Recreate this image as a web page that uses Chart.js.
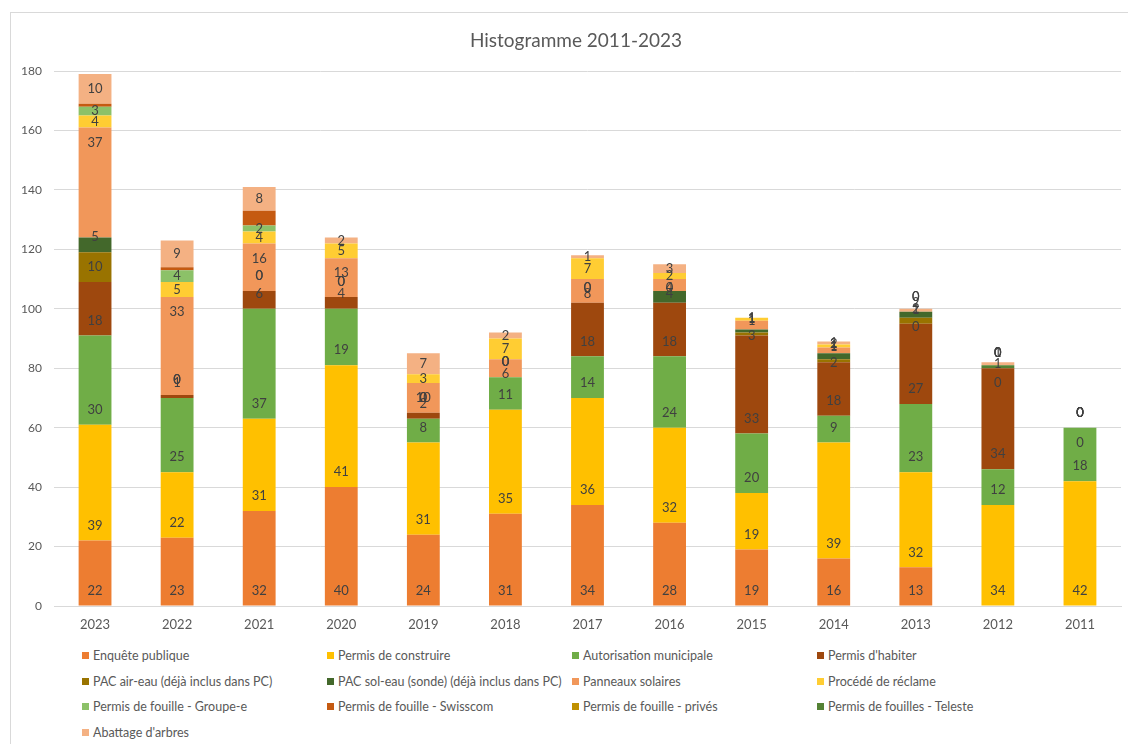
<!DOCTYPE html>
<html lang="fr">
<head>
<meta charset="UTF-8">
<title>Histogramme 2011-2023</title>
<script src="https://cdn.jsdelivr.net/npm/chart.js"></script>
<style>
  body { margin: 0; background: #fff; font-family: Lato, 'Open Sans', sans-serif; }
  .frame {
    position: absolute; left: 10px; top: 12px; width: 1130px; height: 740px;
    border: 1px solid #d9d9d9; box-sizing: border-box;
  }
  #chart { position: absolute; left: 0; top: 0; }
  .titre {
    position: absolute; left: 376px; width: 400px; top: 28px; text-align: center;
    font-size: 19px; color: #595959;
  }
  .legend {
    position: absolute; left: 82px; top: 643px; width: 1000px;
    display: grid; grid-template-columns: repeat(4, 245px); grid-auto-rows: 25.5px;
    font-size: 12.5px; color: #595959;
  }
  .legend span { display: flex; align-items: center; white-space: nowrap; }
  .legend i { display: inline-block; width: 7px; height: 7px; margin-right: 4px; }
</style>
</head>
<body>
<div class="frame"></div>
<canvas id="chart" width="1128" height="640"></canvas>
<div class="titre">Histogramme 2011-2023</div>
<div class="legend" id="legend"></div>

<script>
// années (ordre du graphique)
const annees = ['2023','2022','2021','2020','2019','2018','2017','2016','2015','2014','2013','2012','2011'];

const enquetePublique   = [22, 23, 32, 40, 24, 31, 34, 28, 19, 16, 13, null, null];
const permisConstruire  = [39, 22, 31, 41, 31, 35, 36, 32, 19, 39, 32, 34, 42];
const autorisationMun   = [30, 25, 37, 19, 8, 11, 14, 24, 20, 9, 23, 12, 18];
const permisHabiter     = [18, 1, 6, 4, 2, 0, 18, 18, 33, 18, 27, 34, 0];
const pacAirEau         = [10, 0, 0, 0, 0, 0, 0, 0, 1, 1, 2, 0, 0];
const pacSolEau         = [5, 0, 0, 0, 0, 0, 0, 4, 1, 2, 2, 0, 0];
const panneauxSolaires  = [37, 33, 16, 13, 10, 6, 8, 4, 3, 2, 0, 0, 0];
const procedeReclame    = [4, 5, 4, 5, 3, 7, 7, 2, 1, 1, null, null, null];
const fouilleGroupeE    = [3, 4, 2, null, null, null, null, null, null, null, null, null, null];
const fouilleSwisscom   = [1, 1, 5, null, null, null, null, null, null, null, null, null, null];
const fouillePrives     = [null, null, null, null, null, null, null, null, null, null, 0, 0, 0];
const fouillesTeleste   = [null, null, null, null, null, null, null, null, null, null, 0, 1, 0];
const abattageArbres    = [10, 9, 8, 2, 7, 2, 1, 3, null, 1, 1, 1, null];

const yTicks = [0, 20, 40, 60, 80, 100, 120, 140, 160, 180];

// nom, données, couleur, position de l'étiquette (base / fin / centre / aucune)
const series = [
  ["Enquête publique", enquetePublique, '#ED7D31', 'base'],
  ["Permis de construire", permisConstruire, '#FFC000', 'base'],
  ["Autorisation municipale", autorisationMun, '#70AD47', 'base'],
  ["Permis d'habiter", permisHabiter, '#9E480E', 'base'],
  ["PAC air-eau (déjà inclus dans PC)", pacAirEau, '#997300', 'base'],
  ["PAC sol-eau (sonde) (déjà inclus dans PC)", pacSolEau, '#43682B', 'base'],
  ["Panneaux solaires", panneauxSolaires, '#F1975A', 'end'],
  ["Procédé de réclame", procedeReclame, '#FFCD33', 'center'],
  ["Permis de fouille - Groupe-e", fouilleGroupeE, '#8CC168', 'center'],
  ["Permis de fouille - Swisscom", fouilleSwisscom, '#C55A11', 'none'],
  ["Permis de fouille - privés", fouillePrives, '#BF9000', 'base'],
  ["Permis de fouilles - Teleste", fouillesTeleste, '#548235', 'base'],
  ["Abattage d'arbres", abattageArbres, '#F4B183', 'center']
];

// étiquettes de données façon Excel
const etiquettes = {
  id: 'etiquettes',
  afterDatasetsDraw(chart) {
    const ctx = chart.ctx;
    ctx.save();
    ctx.font = '13px Lato, sans-serif';
    ctx.fillStyle = '#404040';
    ctx.textAlign = 'center';
    ctx.textBaseline = 'middle';
    chart.data.datasets.forEach((ds, di) => {
      if (ds.labelPos === 'none') return;
      chart.getDatasetMeta(di).data.forEach((bar, i) => {
        const v = ds.data[i];
        if (v === null || v === undefined) return;
        let y = bar.base - 15;
        if (ds.labelPos === 'end') y = bar.y + 15;
        if (ds.labelPos === 'center') y = (bar.y + bar.base) / 2;
        ctx.fillText(String(v), bar.x, y);
      });
    });
    ctx.restore();
  }
};

new Chart(document.getElementById('chart'), {
  type: 'bar',
  data: {
    labels: annees,
    datasets: series.map(s => ({
      label: s[0], data: s[1], backgroundColor: s[2], labelPos: s[3],
      barPercentage: 0.4, categoryPercentage: 1.0
    }))
  },
  options: {
    responsive: false,
    animation: false,
    layout: { padding: { left: 0, right: 7, top: 71, bottom: 0 } },
    plugins: {
      legend: { display: false },
      tooltip: { enabled: false },
      title: { display: false }
    },
    scales: {
      x: {
        stacked: true,
        grid: { display: false, drawTicks: false },
        border: { color: '#d9d9d9' },
        ticks: { color: '#595959', font: { family: 'Lato', size: 13 }, padding: 11 },
        afterFit: s => { s.height = 34; }
      },
      y: {
        stacked: true,
        min: 0, max: 180,
        afterBuildTicks: s => { s.ticks = yTicks.map(v => ({ value: v })); },
        grid: { color: '#d9d9d9', drawTicks: false },
        border: { display: false },
        ticks: { color: '#595959', font: { family: 'Lato', size: 12 }, padding: 12 },
        afterFit: s => { s.width = 54; }
      }
    }
  },
  plugins: [etiquettes]
});

// légende en 4 colonnes
const legende = document.getElementById('legend');
series.forEach(s => {
  const el = document.createElement('span');
  el.innerHTML = '<i style="background:' + s[2] + '"></i>' + s[0];
  legende.appendChild(el);
});
</script>
</body>
</html>
